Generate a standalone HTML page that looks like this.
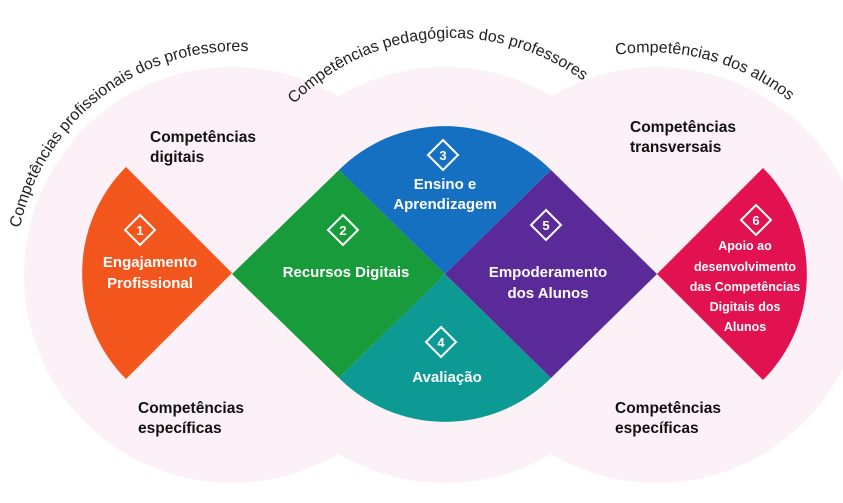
<!DOCTYPE html>
<html><head><meta charset="utf-8"><style>
html,body{margin:0;padding:0;background:#fff;width:843px;height:503px;overflow:hidden}
svg{display:block}
.w{fill:#fff;font-family:"Liberation Sans",sans-serif;font-weight:bold;font-size:15px;text-anchor:middle}
.k{fill:#111;font-family:"Liberation Sans",sans-serif;font-weight:bold;font-size:15.5px}
.t{fill:#222;font-family:"Liberation Sans",sans-serif;font-size:16px}
.n{fill:#fff;font-family:"Liberation Sans",sans-serif;font-weight:bold;font-size:13px;text-anchor:middle}
.r{fill:#fff;font-family:"Liberation Sans",sans-serif;font-weight:bold;font-size:12.5px;text-anchor:middle}
</style></head><body>
<svg width="843" height="503" viewBox="0 0 843 503" xmlns="http://www.w3.org/2000/svg">
<defs>
<path id="a1" d="M 20 228 A 222 222 0 0 1 300 60"/>
<path id="a2" d="M 294 104 A 222 222 0 0 1 610 104"/>
<path id="a3" d="M 616 55 A 222 222 0 0 1 815 125"/>
</defs>
<g fill="#f7e1ec" opacity="0.45">
<circle cx="232" cy="275" r="208"/>
<circle cx="445" cy="275" r="208"/>
<circle cx="657" cy="275" r="208"/>
</g>
<path d="M232 273 L126 167 A150 150 0 0 0 126 379 Z" fill="#f2561d"/>
<path d="M657 274 L763 168 A150 150 0 0 1 763 380 Z" fill="#e2114f"/>
<path d="M339 170 L445 274 L551 170 A150 150 0 0 0 339 170 Z" fill="#1670c2"/>
<path d="M339 378 L445 274 L551 378 A150 150 0 0 1 339 378 Z" fill="#0e9a94"/>
<path d="M232 274 L339 170 L445 274 L339 378 Z" fill="#189b3b"/>
<path d="M445 274 L551 170 L657 274 L551 378 Z" fill="#5b2a99"/>

<text class="t"><textPath href="#a1">Competências profissionais dos professores</textPath></text>
<text class="t"><textPath href="#a2">Competências pedagógicas dos professores</textPath></text>
<text class="t"><textPath href="#a3">Competências dos alunos</textPath></text>

<text class="k" x="150" y="142">Competências</text>
<text class="k" x="150" y="162">digitais</text>
<text class="k" x="138" y="413">Competências</text>
<text class="k" x="138" y="433">específicas</text>
<text class="k" x="630" y="132">Competências</text>
<text class="k" x="630" y="152">transversais</text>
<text class="k" x="615" y="413">Competências</text>
<text class="k" x="615" y="433">específicas</text>

<g fill="none" stroke="#fff" stroke-width="2">
<path d="M140 215 L155 230 L140 245 L125 230 Z"/>
<path d="M343 215 L358 230 L343 245 L328 230 Z"/>
<path d="M443 140 L458 155 L443 170 L428 155 Z"/>
<path d="M441 327 L456 342 L441 357 L426 342 Z"/>
<path d="M546 210 L561 225 L546 240 L531 225 Z"/>
<path d="M756 205 L771 220 L756 235 L741 220 Z"/>
</g>
<text class="n" x="140" y="235">1</text>
<text class="n" x="343" y="235">2</text>
<text class="n" x="443" y="160">3</text>
<text class="n" x="441" y="347">4</text>
<text class="n" x="546" y="230">5</text>
<text class="n" x="756" y="225">6</text>

<text class="w" x="150" y="267">Engajamento</text>
<text class="w" x="150" y="288">Profissional</text>
<text class="w" x="346" y="277">Recursos Digitais</text>
<text class="w" x="445" y="189">Ensino e</text>
<text class="w" x="445" y="209">Aprendizagem</text>
<text class="w" x="548" y="277">Empoderamento</text>
<text class="w" x="548" y="298">dos Alunos</text>
<text class="w" x="447" y="382">Avaliação</text>
<text class="r" x="745" y="250">Apoio ao</text>
<text class="r" x="745" y="271">desenvolvimento</text>
<text class="r" x="745" y="291">das Competências</text>
<text class="r" x="745" y="311">Digitais dos</text>
<text class="r" x="745" y="331">Alunos</text>
</svg>
</body></html>
